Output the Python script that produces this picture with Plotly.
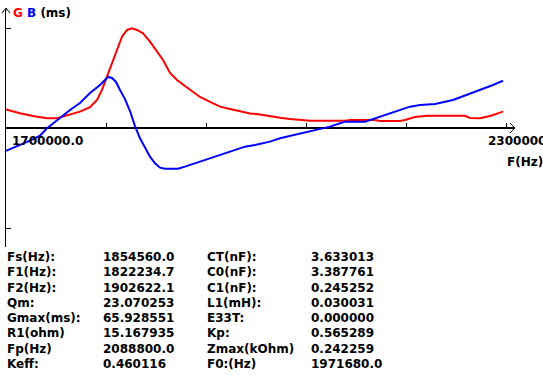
import plotly.graph_objects as go

# ---------------- data ----------------
g_freq_hz = [1700000, 1716800, 1732400, 1749200, 1761200, 1773200, 1788800, 1800800,
             1809200, 1815200, 1821200, 1827200, 1833200, 1839200, 1845200, 1851200,
             1857200, 1864400, 1872800, 1881200, 1888400, 1896800, 1905200, 1914800,
             1924400, 1932800, 1944800, 1956800, 1968800, 1980800, 1992800, 2004800,
             2016800, 2028800, 2040800, 2052800, 2064800, 2106800, 2112800, 2142800,
             2148800, 2172800, 2178800, 2190800, 2205200, 2250800, 2256800, 2268800,
             2280800, 2296400]
g_ms = [12.3, 9.7, 7.9, 6.4, 6.4, 8.1, 10.8, 13.7,
        18.5, 25.1, 33.9, 42.7, 52.6, 60.3, 64.7, 65.8,
        64.7, 62.5, 57.0, 50.4, 44.9, 36.3, 31.7, 27.7,
        23.8, 20.5, 17.2, 14.1, 12.5, 10.8, 9.6, 8.9,
        7.6, 6.8, 5.9, 5.3, 4.8, 4.8, 5.3, 5.3,
        4.6, 4.6, 5.3, 7.3, 8.1, 8.1, 6.6, 6.4,
        7.9, 10.8]

b_freq_hz = [1700000, 1716800, 1728800, 1740800, 1749200, 1764800, 1776800, 1788800,
             1800800, 1812800, 1822400, 1827200, 1832000, 1836800, 1842800, 1848800,
             1854800, 1860800, 1866800, 1872800, 1878800, 1884800, 1890800, 1906400,
             1914800, 1926800, 1938800, 1950800, 1962800, 1974800, 1986800, 1998800,
             2016800, 2028800, 2040800, 2052800, 2064800, 2076800, 2088800, 2100800,
             2106800, 2130800, 2136800, 2148800, 2160800, 2172800, 2184800, 2196800,
             2214800, 2236400, 2253200, 2268800, 2284400, 2296400]
b_ms = [-15.0, -11.2, -8.3, -5.0, -0.2, 6.6, 11.9, 16.5,
        23.1, 28.4, 33.7, 33.0, 30.4, 25.1, 19.1, 11.2,
        1.3, -6.8, -13.4, -18.9, -23.3, -26.2, -26.9, -26.9,
        -25.5, -23.3, -21.1, -18.9, -16.3, -14.5, -12.3, -11.2,
        -9.0, -6.8, -5.3, -3.5, -1.8, -0.7, 0.9, 3.1,
        4.2, 4.2, 5.3, 7.5, 9.2, 11.4, 14.1, 15.2,
        15.8, 18.5, 21.8, 25.1, 28.4, 31.2]

x_tick_hz = [1820000, 1940000, 2060000, 2180000, 2300000]
x_start_label = "1700000.0"
x_end_label = "2300000.0"
y_tick_ms = [-66, 66]

left_labels = ["Fs(Hz):", "F1(Hz):", "F2(Hz):", "Qm:", "Gmax(ms):", "R1(ohm)", "Fp(Hz)", "Keff:"]
left_values = ["1854560.0", "1822234.7", "1902622.1", "23.070253", "65.928551",
               "15.167935", "2088800.0", "0.460116"]
right_labels = ["CT(nF):", "C0(nF):", "C1(nF):", "L1(mH):", "E33T:", "Kp:", "Zmax(kOhm)", "F0:(Hz)"]
right_values = ["3.633013", "3.387761", "0.245252", "0.030031", "0.000000",
                "0.565289", "0.242259", "1971680.0"]

# ---------------- layout geometry ----------------
W, H = 543, 381
L, R, T, B = 6, 28, 10, 134
PW, PH = W - L - R, H - T - B
X0 = 1700000
X1 = X0 + PW * 1200
Y_TOP = (128 - T) * 0.66
Y_BOT = (128 - (H - B)) * 0.66


def px(x):
    return (x - L) / PW


def py(y):
    return (H - B - y) / PH


FONT = dict(family="DejaVu Sans", size=12, color="black", weight="bold")

fig = go.Figure()
fig.add_trace(go.Scatter(x=g_freq_hz, y=g_ms, mode="lines",
                         line=dict(color="#ff0000", width=2), name="G"))
fig.add_trace(go.Scatter(x=b_freq_hz, y=b_ms, mode="lines",
                         line=dict(color="#0000ff", width=2), name="B"))

annotations = []
annotations.append(dict(
    text='<span style="color:#ff0000">G</span> <span style="color:#0000ff">B</span> (ms)',
    xref="paper", yref="paper", x=px(11), y=py(13), xanchor="left", yanchor="middle",
    showarrow=False, font=FONT))
annotations.append(dict(text=x_start_label, xref="x", yref="paper", x=X0, y=py(141),
                        xanchor="left", yanchor="middle", xshift=4, showarrow=False, font=FONT))
annotations.append(dict(text=x_end_label, xref="x", yref="paper", x=x_tick_hz[-1], y=py(141),
                        xanchor="left", yanchor="middle", xshift=-20, showarrow=False, font=FONT))
annotations.append(dict(text="F(Hz)", xref="paper", yref="paper", x=px(505), y=py(162),
                        xanchor="left", yanchor="middle", showarrow=False, font=FONT))

for i in range(len(left_labels)):
    yy = py(257 + i * 15.3)
    for xpos, txt in ((5, left_labels[i]), (101, left_values[i]),
                      (205, right_labels[i]), (309, right_values[i])):
        annotations.append(dict(text=txt, xref="paper", yref="paper", x=px(xpos), y=yy,
                                xanchor="left", yanchor="middle", showarrow=False, font=FONT))

shapes = [
    # y-axis arrow head
    dict(type="path", xref="paper", yref="paper",
         path=f"M {px(2)} {py(13)} L {px(6)} {py(8)} L {px(10)} {py(13)} M {px(6)} {py(8)} L {px(6)} {py(11)}",
         line=dict(color="black", width=1)),
    # x-axis arrow head
    dict(type="path", xref="paper", yref="paper",
         path=f"M {px(510)} {py(123)} L {px(515)} {py(128)} L {px(510)} {py(133)}",
         line=dict(color="black", width=1)),
]

fig.update_layout(
    width=W, height=H,
    margin=dict(l=L, r=R, t=T, b=B, pad=0),
    paper_bgcolor="white", plot_bgcolor="white",
    showlegend=False,
    xaxis=dict(range=[X0, X1], showgrid=False, zeroline=False, showline=False,
               showticklabels=False, ticks=""),
    xaxis2=dict(range=[X0, X1], overlaying="x", anchor="free", position=py(128),
                side="bottom", showgrid=False, zeroline=False, showline=False,
                tickmode="array", tickvals=x_tick_hz, ticks="inside", ticklen=5,
                tickcolor="black", tickwidth=1, showticklabels=False),
    yaxis=dict(range=[Y_BOT, Y_TOP], showgrid=False, zeroline=True, zerolinecolor="black",
               zerolinewidth=1.5, showline=True, linecolor="black", linewidth=1,
               tickmode="array", tickvals=y_tick_ms, ticks="inside", ticklen=5,
               tickcolor="black", tickwidth=1, showticklabels=False),
    annotations=annotations,
    shapes=shapes,
    font=FONT,
)
# invisible helper trace so the free x-axis (tick marks on the zero line) is drawn
fig.add_trace(go.Scatter(x=[X0], y=[0], xaxis="x2", mode="markers",
                         marker=dict(opacity=0), hoverinfo="skip", showlegend=False))

fig.write_html("out.html", config={"displayModeBar": False},
               post_script="document.body.style.margin='0';document.body.style.padding='0';")
